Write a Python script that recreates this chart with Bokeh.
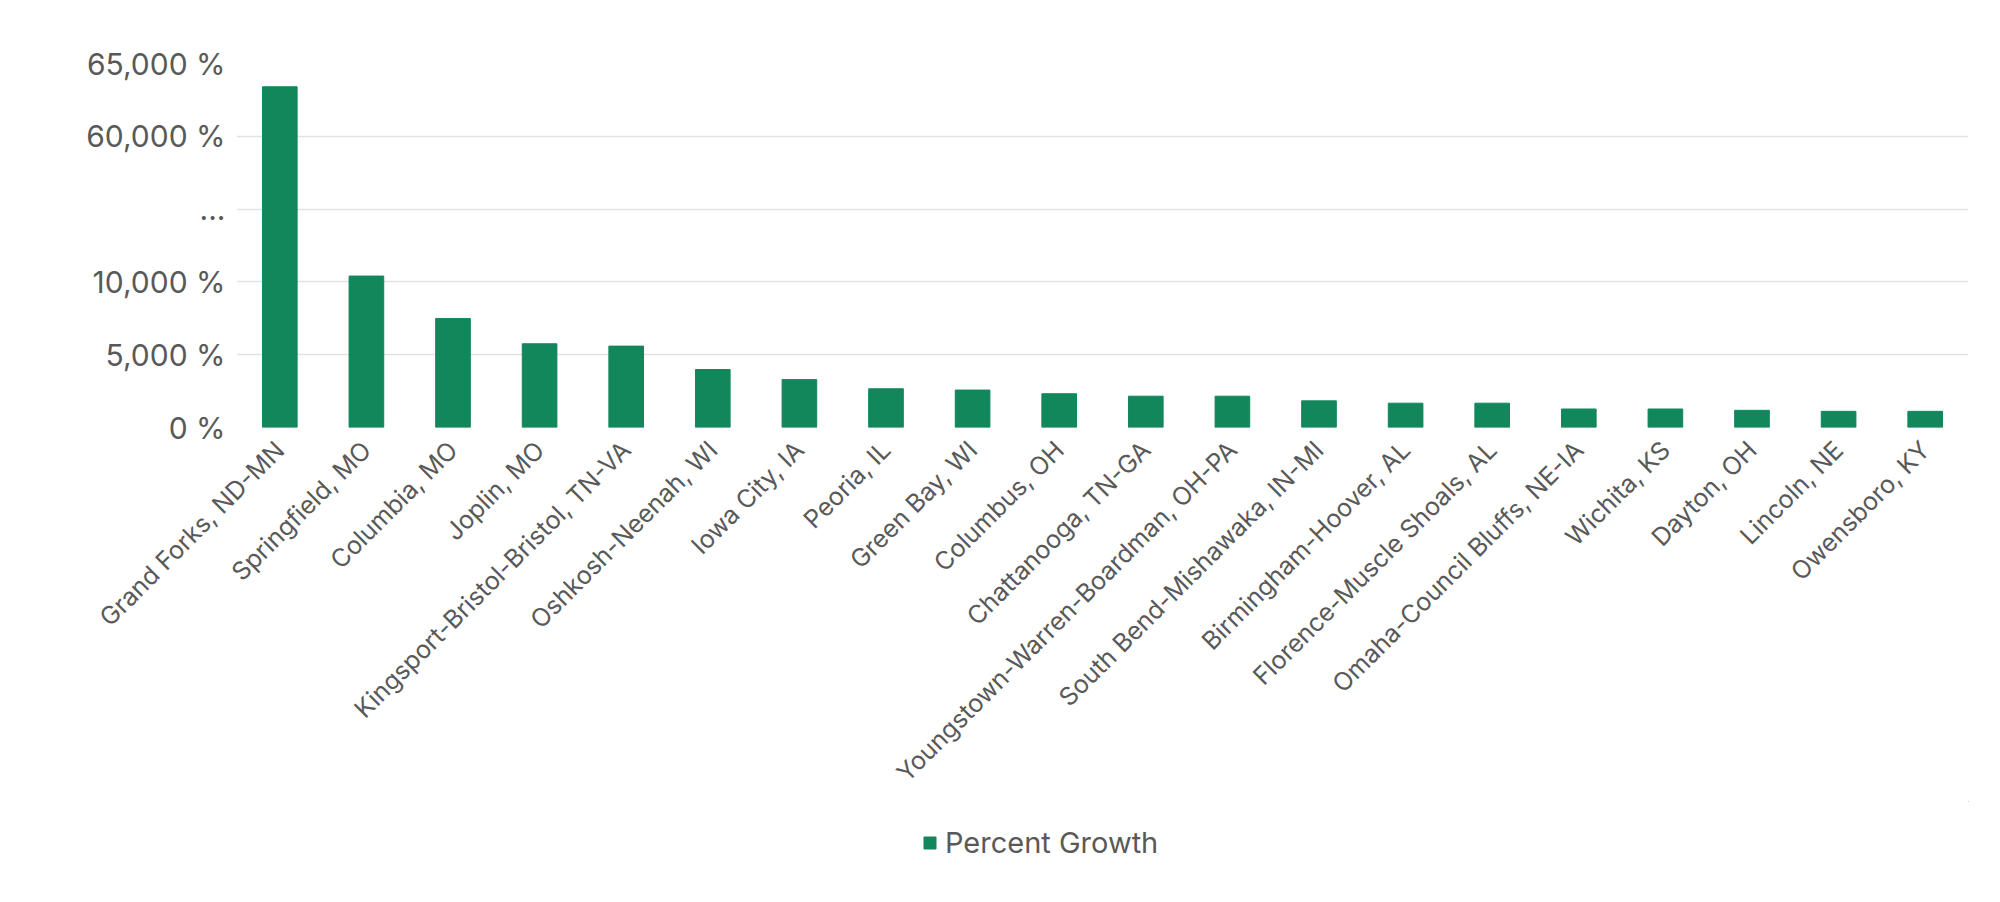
from bokeh.plotting import figure
from bokeh.models import ColumnDataSource, FixedTicker, Legend, LegendItem, Range1d
from bokeh.layouts import column
from bokeh.embed import file_html
from bokeh.resources import INLINE
import math

cities = [
    "Grand Forks, ND-MN", "Springfield, MO", "Columbia, MO", "Joplin, MO",
    "Kingsport-Bristol-Bristol, TN-VA", "Oshkosh-Neenah, WI", "Iowa City, IA",
    "Peoria, IL", "Green Bay, WI", "Columbus, OH", "Chattanooga, TN-GA",
    "Youngstown-Warren-Boardman, OH-PA", "South Bend-Mishawaka, IN-MI",
    "Birmingham-Hoover, AL", "Florence-Muscle Shoals, AL",
    "Omaha-Council Bluffs, NE-IA", "Wichita, KS", "Dayton, OH", "Lincoln, NE",
    "Owensboro, KY",
]
growth = [63400, 10400, 7490, 5750, 5590, 3980, 3290, 2660, 2570, 2320,
          2150, 2150, 1830, 1670, 1670, 1270, 1270, 1180, 1110, 1110]

y_tick_values = [0, 5000, 10000, 15000, 20000, 25000]
y_tick_labels = ["0 %", "5,000 %", "10,000 %", "...", "60,000 %", "65,000 %"]
series_name = "Percent Growth"

# broken axis: values above the break are shifted down by the gap
BREAK_GAP = 40000
BREAK_ABOVE = 55000
plotted = [v - BREAK_GAP if v > BREAK_ABOVE else v for v in growth]

FONT = "Inter"
TXT = "#595959"
GREEN = "#12875b"

src = ColumnDataSource(dict(city=cities, growth=growth, y=plotted))

p = figure(x_range=cities, y_range=Range1d(0, 25000),
           frame_width=1732, frame_height=364,
           output_backend="svg", toolbar_location=None,
           min_border_left=236, min_border_right=16, min_border_top=63,
           min_border_bottom=0)
p.outline_line_color = None
p.background_fill_color = "white"
p.border_fill_color = "white"

r = p.vbar(x="city", top="y", width=0.4, source=src, fill_color=GREEN,
           line_color=GREEN, line_width=1)

p.yaxis.ticker = FixedTicker(ticks=y_tick_values)
p.yaxis.major_label_overrides = {t: l for t, l in zip(y_tick_values, y_tick_labels)}
p.yaxis.axis_line_color = None
p.yaxis.major_tick_line_color = None
p.yaxis.minor_tick_line_color = None
p.yaxis.major_label_text_font = FONT
p.yaxis.major_label_text_font_size = "30px"
p.yaxis.major_label_text_color = TXT
p.yaxis.major_label_standoff = 5

p.xaxis.axis_line_color = None
p.xaxis.major_tick_line_color = None
p.xaxis.major_label_orientation = math.pi / 4
p.xaxis.major_label_text_font = FONT
p.xaxis.major_label_text_font_size = "25px"
p.xaxis.major_label_text_color = TXT
p.xaxis.major_label_standoff = 12

p.xgrid.grid_line_color = None
p.ygrid.grid_line_color = "#e2e2e2"
p.ygrid.grid_line_width = 1.5

# legend strip underneath the chart (its swatch renderer sits off-screen)
lg = figure(width=1984, height=80, x_range=Range1d(0, 1), y_range=Range1d(0, 1),
            output_backend="svg", toolbar_location=None, min_border=0)
lg.axis.visible = False
lg.grid.grid_line_color = None
lg.outline_line_color = None
lr = lg.vbar(x=[5], top=[5], bottom=[4], width=0.4, fill_color=GREEN,
             line_color=GREEN)
legend = Legend(items=[LegendItem(label=series_name, renderers=[lr])],
                orientation="horizontal", location=(686, 21))
legend.label_text_font = FONT
legend.label_text_font_size = "29px"
legend.label_text_color = TXT
legend.glyph_width = 15
legend.glyph_height = 15
legend.label_standoff = 8
legend.padding = 4
legend.border_line_color = None
legend.background_fill_alpha = 0
lg.add_layout(legend, "center")

layout = column(p, lg, spacing=0)
open("out.html", "w").write(file_html(layout, INLINE))
